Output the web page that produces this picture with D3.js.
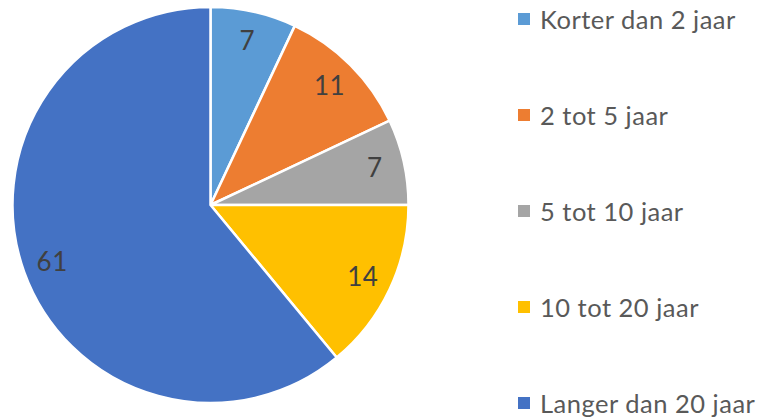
<!DOCTYPE html>
<html>
<head>
<meta charset="utf-8">
<script src="https://cdn.jsdelivr.net/npm/d3@7"></script>
<style>
  body { margin: 0; background: #fff; }
  svg { display: block; font-family: Lato, "Open Sans", sans-serif; }
</style>
</head>
<body>
<div id="chart"></div>
<script>
// Data
var categories = ["Korter dan 2 jaar", "2 tot 5 jaar", "5 tot 10 jaar", "10 tot 20 jaar", "Langer dan 20 jaar"];
var values = [7, 11, 7, 14, 61];
var colors = ["#5B9BD5", "#ED7D31", "#A5A5A5", "#FFC000", "#4472C4"];

var width = 763, height = 419;
var cx = 210.5, cy = 205, radius = 198;

var svg = d3.select("#chart").append("svg")
  .attr("width", width)
  .attr("height", height);

var g = svg.append("g")
  .attr("transform", "translate(" + cx + "," + cy + ")");

var pie = d3.pie().sort(null).value(function(d) { return d; });
var arcs = pie(values);

var arc = d3.arc().innerRadius(0).outerRadius(radius);
var labelArc = d3.arc().innerRadius(radius * 0.85).outerRadius(radius * 0.85);

// Slices
g.selectAll("path")
  .data(arcs)
  .enter().append("path")
  .attr("d", arc)
  .attr("fill", function(d, i) { return colors[i]; })
  .attr("stroke", "#fff")
  .attr("stroke-width", 2.5)
  .attr("stroke-linejoin", "round");

// Data labels
g.selectAll("text.label")
  .data(arcs)
  .enter().append("text")
  .attr("class", "label")
  .attr("transform", function(d) { return "translate(" + labelArc.centroid(d) + ")"; })
  .attr("text-anchor", "middle")
  .attr("dy", "0.35em")
  .attr("fill", "#404040")
  .style("font-size", "26px")
  .style("letter-spacing", "0.5px")
  .text(function(d) { return d.value; });

// Legend
var legend = svg.append("g").attr("transform", "translate(518,0)");
var rowY = d3.scalePoint().domain(categories).range([29, 413]);

var items = legend.selectAll("g")
  .data(categories)
  .enter().append("g")
  .attr("transform", function(d) { return "translate(0," + rowY(d) + ")"; });

items.append("rect")
  .attr("x", 0)
  .attr("y", -16)
  .attr("width", 12)
  .attr("height", 12)
  .attr("fill", function(d, i) { return colors[i]; });

items.append("text")
  .attr("x", 22)
  .attr("y", 0)
  .attr("fill", "#595959")
  .style("font-size", "25.5px")
  .style("letter-spacing", "0.5px")
  .text(function(d) { return d; });
</script>
</body>
</html>
